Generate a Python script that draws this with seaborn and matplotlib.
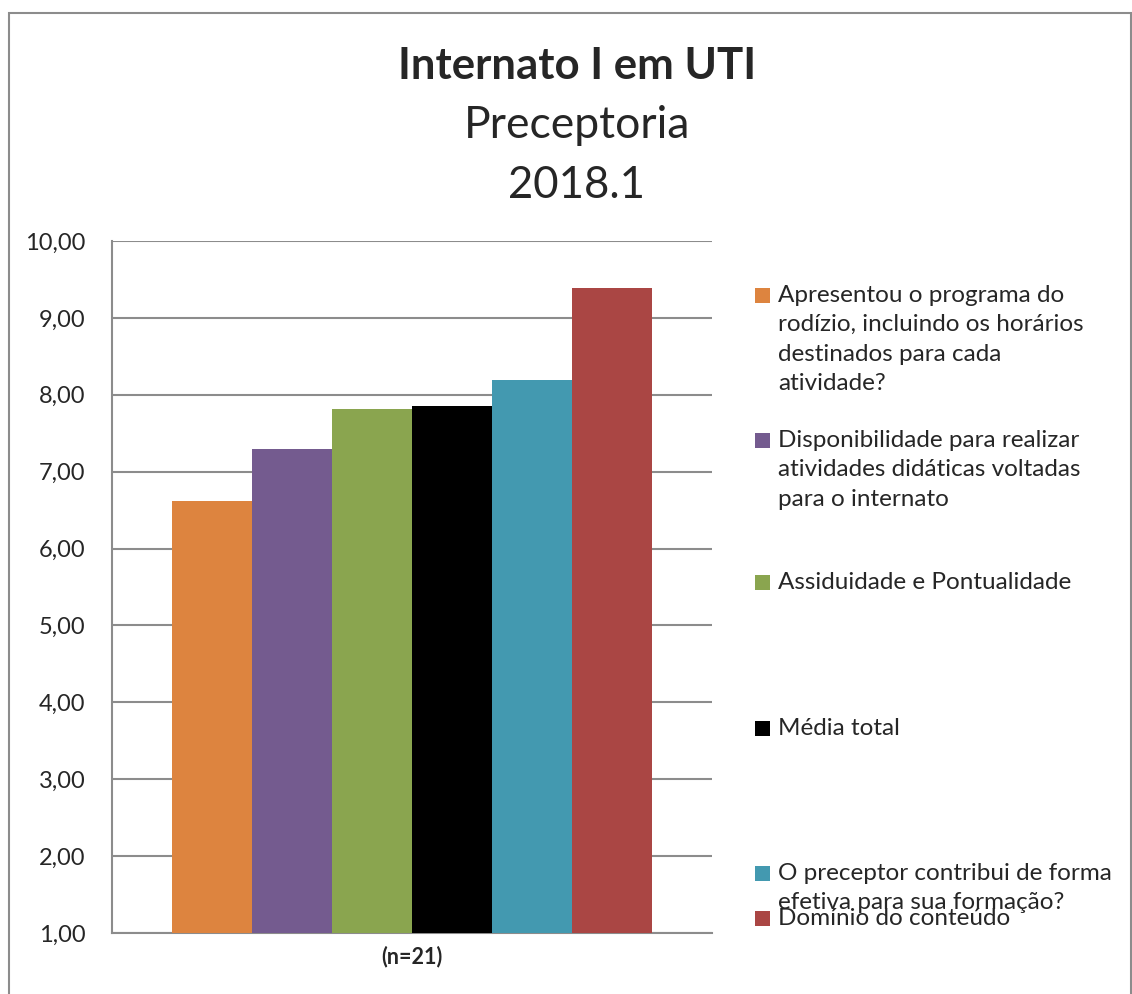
import matplotlib
matplotlib.use("Agg")
import matplotlib.pyplot as plt
import seaborn as sns
import pandas as pd
from matplotlib.patches import Rectangle

# chart data
group_label = "(n=21)"
series_names = [
    "Apresentou o programa do\nrodízio, incluindo os horários\ndestinados para cada\natividade?",
    "Disponibilidade para realizar\natividades didáticas voltadas\npara o internato",
    "Assiduidade e Pontualidade",
    "Média total",
    "O preceptor contribui de forma\nefetiva para sua formação?",
    "Domínio do conteúdo",
]
series_values = [6.62, 7.29, 7.81, 7.86, 8.19, 9.39]
series_colors = ["#DD843F", "#745B8F", "#8AA54F", "#000000", "#4399B0", "#AA4644"]
y_ticks = [1, 2, 3, 4, 5, 6, 7, 8, 9, 10]

sns.set_style("white")
plt.rcParams["font.family"] = ["Lato", "DejaVu Sans"]

W, H = 1132, 994
fig = plt.figure(figsize=(W / 100, H / 100), dpi=100)

# outer chart border
fig.patches.append(Rectangle((9 / W, -0.01), (W - 10) / W, 1 - 13 / H + 0.01,
                             transform=fig.transFigure, fill=False,
                             edgecolor="#8c8c8c", linewidth=1.5))

ax = fig.add_axes([112 / W, 1 - 933 / H, 600 / W, (933 - 241) / H])

df = pd.DataFrame({"grupo": [group_label] * len(series_values),
                   "serie": series_names,
                   "valor": series_values})
sns.barplot(data=df, x="grupo", y="valor", hue="serie", hue_order=series_names,
            palette=series_colors, saturation=1, width=0.8, legend=False,
            ax=ax, zorder=3)
for p in ax.patches:
    p.set_edgecolor("none")

ax.set_ylim(1, 10)
ax.set_xlim(-0.5, 0.5)
ax.set_yticks(y_ticks)
ax.set_yticklabels([f"{v:.2f}".replace(".", ",") for v in y_ticks], fontsize=17)
ax.tick_params(axis="y", length=0, pad=19)
ax.tick_params(axis="x", length=0, pad=9)
ax.set_xticks([0])
ax.set_xticklabels([group_label], fontsize=15.5, fontweight="bold")
ax.set_xlabel("")
ax.set_ylabel("")
ax.yaxis.grid(True, color="#8c8c8c", linewidth=1.5, zorder=0)
ax.set_axisbelow(True)
for s in ["top", "right"]:
    ax.spines[s].set_visible(False)
for s in ["left", "bottom"]:
    ax.spines[s].set_color("#8c8c8c")
    ax.spines[s].set_linewidth(1.5)

# titles
cx = 0.5 + 11 / W
fig.text(cx, 1 - 66 / H, "Internato I em UTI", ha="center", va="center",
         fontsize=31.5, fontweight="bold")
fig.text(cx, 1 - 126 / H, "Preceptoria", ha="center", va="center", fontsize=32)
fig.text(cx, 1 - 186 / H, "2018.1", ha="center", va="center", fontsize=31.5)

# legend drawn manually (Excel layout, last two entries overlap like the original)
legend_rows = [295, 440, 582, 728, 873, 918]
for name, color, yc in zip(series_names, series_colors, legend_rows):
    fig.patches.append(Rectangle((755 / W, 1 - (yc + 8) / H), 15 / W, 15 / H,
                                 transform=fig.transFigure, facecolor=color,
                                 edgecolor="none"))
    fig.text(778 / W, 1 - (yc - 10) / H, name, ha="left", va="top",
             fontsize=17.5, linespacing=1.49)

fig.savefig("out.png", dpi=100)
